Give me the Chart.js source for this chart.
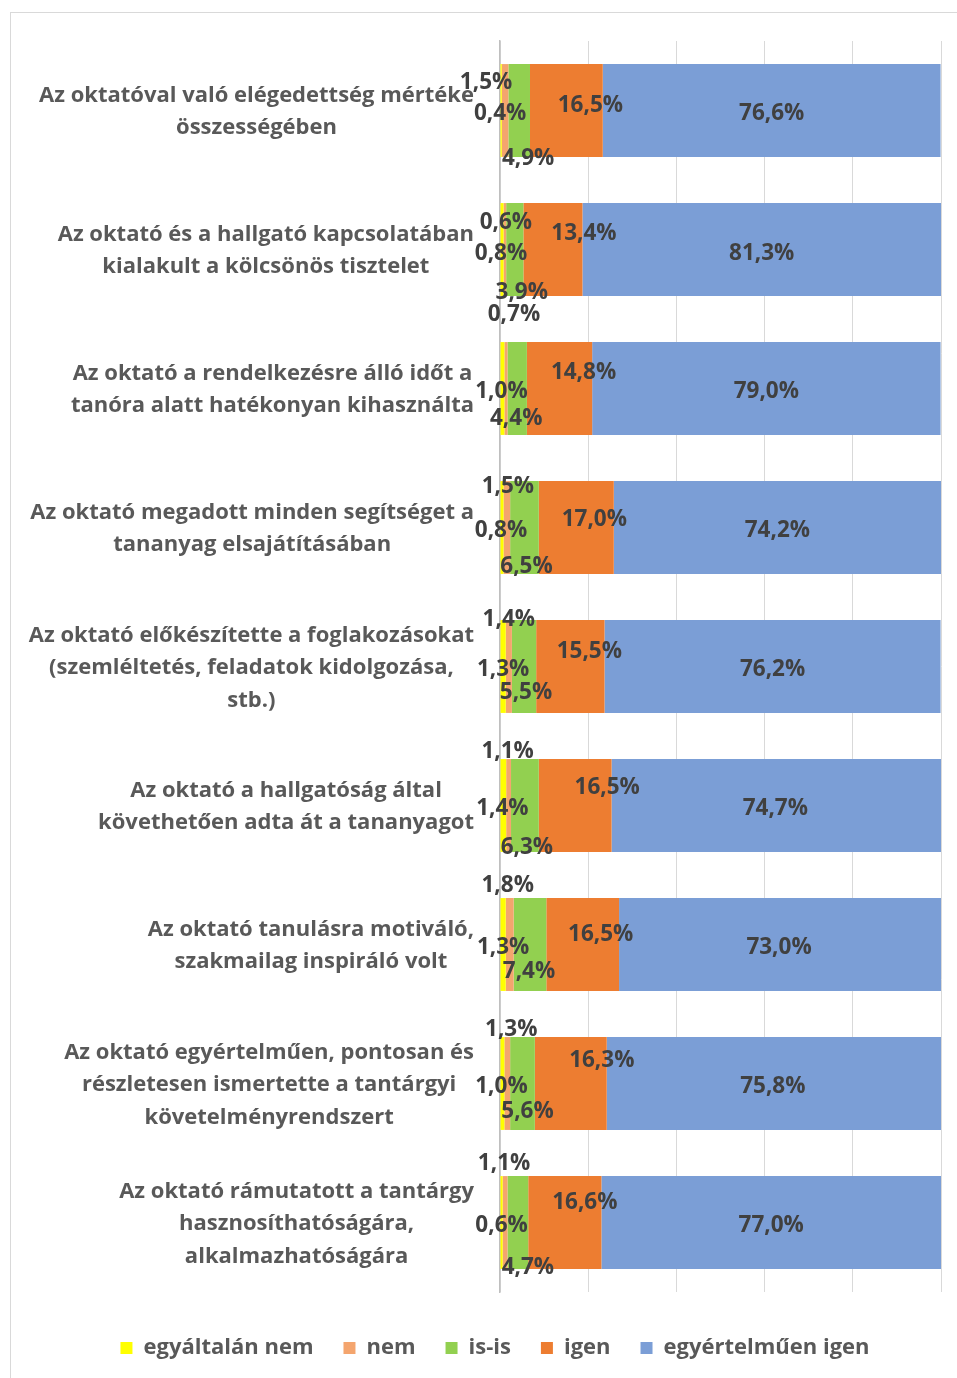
<!DOCTYPE html>
<html lang="hu">
<head>
<meta charset="utf-8">
<title>Oktatói értékelés</title>
<script src="https://cdn.jsdelivr.net/npm/chart.js@4.4.1/dist/chart.umd.min.js"></script>
<style>
  html, body { margin: 0; padding: 0; background: #fff; overflow: hidden; }
  #frame { position: absolute; left: 10px; top: 12px; width: 1000px; height: 1400px; border: 1px solid #d9d9d9; }
  #wrap { position: absolute; left: 0; top: 0; width: 957px; height: 1378px; }
</style>
</head>
<body>
<div id="frame"></div>
<div id="wrap"><canvas id="myChart"></canvas></div>
<script>
// question texts, one array of lines per bar
const categories = [
  ['Az oktatóval való elégedettség mértéke', 'összességében'],
  ['Az oktató és a hallgató kapcsolatában', 'kialakult a kölcsönös tisztelet'],
  ['Az oktató a rendelkezésre álló időt a', 'tanóra alatt hatékonyan kihasználta'],
  ['Az oktató megadott minden segítséget a', 'tananyag elsajátításában'],
  ['Az oktató előkészítette a foglakozásokat', '(szemléltetés, feladatok kidolgozása,', 'stb.)'],
  ['Az oktató a hallgatóság által', 'követhetően adta át a tananyagot'],
  ['Az oktató tanulásra motiváló,', 'szakmailag inspiráló volt'],
  ['Az oktató egyértelműen, pontosan és', 'részletesen ismertette a tantárgyi', 'követelményrendszert'],
  ['Az oktató rámutatott a tantárgy', 'hasznosíthatóságára,', 'alkalmazhatóságára']
];

// answer shares in percent
const egyaltalanNem    = [0.4, 0.8, 1.0, 0.8, 1.3, 1.4, 1.3, 1.0, 0.6];
const nem              = [1.5, 0.6, 0.7, 1.5, 1.4, 1.1, 1.8, 1.3, 1.1];
const isIs             = [4.9, 3.9, 4.4, 6.5, 5.5, 6.3, 7.4, 5.6, 4.7];
const igen             = [16.5, 13.4, 14.8, 17.0, 15.5, 16.5, 16.5, 16.3, 16.6];
const egyertelmuenIgen = [76.6, 81.3, 79.0, 74.2, 76.2, 74.7, 73.0, 75.8, 77.0];

const seriesNames = ['egyáltalán nem', 'nem', 'is-is', 'igen', 'egyértelműen igen'];
const seriesColors = ['#ffff00', '#f4a56e', '#92d050', '#ed7d31', '#7b9ed6'];

// small labels are pushed off their segment so they don't collide: [dx, dy] in px
const labelNudge = [
  [[-1, 1], [-1, 2], [-1, 1], [-1, 1], [0, 1], [-1, 1], [0, 1], [-1, 1], [0, 1]],
  [[-19, -30], [1, -29], [8, -76], [1, -43], [0, -49], [-1, -56], [-2, -61], [4, -56], [-1, -61]],
  [[9, 46], [7, 41], [-1, 28], [2, 37], [2, 24], [2, 40], [-1, 25], [5, 26], [10, 43]],
  [[24, -7], [31, -18], [24, -18], [18, -10], [19, -17], [32, -20], [18, -12], [31, -25], [20, -22]],
  [[0, 1], [0, 2], [0, 1], [0, 1], [0, 1], [-1, 1], [-1, 1], [-1, 1], [0, 1]]
];

const fmt = v => v.toFixed(1).replace('.', ',') + '%';

const textLayer = {
  id: 'textLayer',
  afterDatasetsDraw(chart) {
    const { ctx, chartArea, scales: { y } } = chart;
    ctx.save();
    ctx.textAlign = 'center';
    ctx.textBaseline = 'alphabetic';

    // question labels: block right-aligned to the axis, lines centred in it
    ctx.font = 'bold 22px "Open Sans"';
    ctx.fillStyle = '#595959';
    categories.forEach((lines, i) => {
      const widest = Math.max(...lines.map(l => ctx.measureText(l).width));
      const cx = chartArea.left - 26 - widest / 2;
      const cy = y.getPixelForValue(i);
      lines.forEach((line, k) => {
        ctx.fillText(line, cx, cy + 7.5 + (k - (lines.length - 1) / 2) * 32.5);
      });
    });

    // value labels
    ctx.font = 'bold 22.5px "Open Sans"';
    ctx.fillStyle = '#404040';
    chart.data.datasets.forEach((ds, d) => {
      chart.getDatasetMeta(d).data.forEach((bar, i) => {
        const [dx, dy] = labelNudge[d][i];
        const x = (bar.base + bar.x) / 2 + dx;
        ctx.fillText(fmt(ds.data[i]), x, bar.y + dy + 8);
      });
    });
    ctx.restore();
  }
};

const ctx = document.getElementById('myChart').getContext('2d');

const data = {
  labels: categories,
  datasets: [egyaltalanNem, nem, isIs, igen, egyertelmuenIgen].map((values, d) => ({
    label: seriesNames[d],
    data: values,
    backgroundColor: seriesColors[d],
    borderWidth: 0
  }))
};

const config = {
  type: 'bar',
  data: data,
  plugins: [textLayer],
  options: {
    indexAxis: 'y',
    responsive: true,
    maintainAspectRatio: false,
    animation: false,
    layout: { padding: { top: 41, left: 49, right: 16, bottom: 9 } },
    datasets: { bar: { categoryPercentage: 1, barPercentage: 0.668 } },
    scales: {
      x: {
        stacked: true,
        min: 0,
        max: 100,
        ticks: { display: false, stepSize: 20 },
        grid: { color: '#d9d9d9', drawTicks: false },
        border: { display: false },
        afterFit: s => { s.height = 15; }
      },
      y: {
        stacked: true,
        ticks: { display: false },
        grid: { display: false },
        border: { color: '#bfbfbf', width: 1.5 },
        afterFit: s => { s.width = 451; }
      }
    },
    plugins: {
      legend: {
        position: 'bottom',
        labels: {
          font: { family: 'Open Sans', size: 22, weight: 'bold' },
          color: '#595959',
          boxWidth: 12,
          boxHeight: 12,
          padding: 30
        }
      },
      tooltip: { enabled: false }
    }
  }
};

const myChart = new Chart(ctx, config);
</script>
</body>
</html>
